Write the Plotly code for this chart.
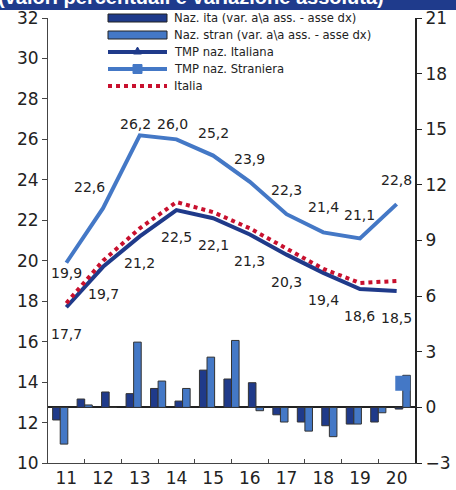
import plotly.graph_objects as go

# years on the main (line) axis
anni = ['11', '12', '13', '14', '15', '16', '17', '18', '19', '20']
tmp_ita = [17.7, 19.7, 21.2, 22.5, 22.1, 21.3, 20.3, 19.4, 18.6, 18.5]
tmp_stran = [19.9, 22.6, 26.2, 26.0, 25.2, 23.9, 22.3, 21.4, 21.1, 22.8]
tmp_italia = [17.9, 20.0, 21.6, 22.9, 22.4, 21.6, 20.6, 19.6, 18.9, 19.0]

# bars (right axis) on their own 15 periods
periodi = [str(i) for i in range(15)]
var_ita = [-0.68, 0.45, 0.83, 0.74, 1.02, 0.34, 2.01, 1.53, 1.33, -0.40, -0.79, -0.99, -0.90, -0.79, -0.09]
var_stran = [-1.98, 0.13, 0.0, 3.52, 1.42, 1.02, 2.71, 3.61, -0.18, -0.79, -1.28, -1.58, -0.90, -0.29, 1.73]
macchia_x = ['14']
macchia_y = [1.3]

legenda = ['Naz. ita (var. a\\a ass. - asse dx)', 'Naz. stran (var. a\\a ass. - asse dx)',
           'TMP naz. Italiana', 'TMP naz. Straniera', 'Italia']

BLU = '#1F3A8A'
AZZ = '#4478C6'
ROSSO = '#C8102E'
FONT = 'DejaVu Sans'

W, H = 456, 490
ML, MR, MT, MB = 48, 41, 18, 27
PW, PH = W - ML - MR, H - MT - MB


def px(x):
    return (x - ML) / PW


def py(y):
    return 1 - (y - MT) / PH


# label offsets (px)
shift_ita = [(0, -27)] * 10
shift_stran = [(0, -10), (-14, 21), (-4, 11), (-4, 15), (0, 23), (0, 23), (0, 24), (0, 25), (0, 23), (0, 24)]

fig = go.Figure()

fig.add_trace(go.Bar(x=periodi, y=var_ita, xaxis='x2', yaxis='y2', marker=dict(color=BLU, line=dict(color='#333', width=1)),
                     showlegend=False))
fig.add_trace(go.Bar(x=periodi, y=var_stran, xaxis='x2', yaxis='y2', marker=dict(color=AZZ, line=dict(color='#333', width=1)),
                     showlegend=False))
fig.add_trace(go.Scatter(x=macchia_x, y=macchia_y, xaxis='x2', yaxis='y2', mode='markers',
                         marker=dict(symbol='square', size=15, color=AZZ), showlegend=False, hoverinfo='skip'))

fig.add_trace(go.Scatter(x=anni, y=tmp_stran, mode='lines', line=dict(color=AZZ, width=4), showlegend=False))
fig.add_trace(go.Scatter(x=anni, y=tmp_ita, mode='lines', line=dict(color=BLU, width=4), showlegend=False))
fig.add_trace(go.Scatter(x=anni, y=tmp_italia, mode='lines', line=dict(color=ROSSO, width=4, dash='dot'), showlegend=False))

annots = []
lab_font = dict(size=14, color='#222', family=FONT)
for i in range(len(anni)):
    annots.append(dict(x=i, y=tmp_ita[i], text=f'{tmp_ita[i]:.1f}'.replace('.', ','), showarrow=False,
                       xshift=shift_ita[i][0], yshift=shift_ita[i][1], font=lab_font))
    annots.append(dict(x=i, y=tmp_stran[i], text=f'{tmp_stran[i]:.1f}'.replace('.', ','), showarrow=False,
                       xshift=shift_stran[i][0], yshift=shift_stran[i][1], font=lab_font))

# title strip, cut off at the top
annots.append(dict(xref='paper', yref='paper', x=px(-4), y=1.0, xanchor='left', yanchor='bottom', yshift=8,
                   text='<b>(valori percentuali e variazione assoluta)</b>', showarrow=False,
                   font=dict(size=20, color='white', family='Liberation Sans')))

shapes = [dict(type='rect', xref='paper', yref='paper', x0=-0.2, x1=1.2, y0=py(10), y1=1.1,
               fillcolor='#1F3B8C', line=dict(width=0), layer='below')]

# hand-made legend
righe = [18, 35, 52, 69, 86]
sx0, sx1, tx = 108, 167, 172
for k, nome in enumerate(legenda):
    yc = righe[k]
    annots.append(dict(xref='paper', yref='paper', x=px(tx), y=py(yc), xanchor='left', yanchor='middle',
                       text=nome, showarrow=False, font=dict(size=11.6, color='#222', family=FONT)))
shapes.append(dict(type='rect', xref='paper', yref='paper', x0=px(sx0), x1=px(sx1), y0=py(righe[0] - 4), y1=py(righe[0] + 4),
                   fillcolor=BLU, line=dict(color='#222', width=1)))
shapes.append(dict(type='rect', xref='paper', yref='paper', x0=px(sx0), x1=px(sx1), y0=py(righe[1] - 4), y1=py(righe[1] + 4),
                   fillcolor=AZZ, line=dict(color='#222', width=1)))
shapes.append(dict(type='line', xref='paper', yref='paper', x0=px(sx0), x1=px(sx1), y0=py(righe[2]), y1=py(righe[2]),
                   line=dict(color=BLU, width=4)))
xm = (sx0 + sx1) / 2
shapes.append(dict(type='path', xref='paper', yref='paper',
                   path=f'M {px(xm - 4)},{py(righe[2] + 2)} L {px(xm + 4)},{py(righe[2] + 2)} L {px(xm)},{py(righe[2] - 5)} Z',
                   fillcolor=BLU, line=dict(color=BLU, width=1)))
shapes.append(dict(type='line', xref='paper', yref='paper', x0=px(sx0), x1=px(sx1), y0=py(righe[3]), y1=py(righe[3]),
                   line=dict(color=AZZ, width=4)))
shapes.append(dict(type='rect', xref='paper', yref='paper', x0=px(xm - 4.5), x1=px(xm + 4.5), y0=py(righe[3] - 4.5), y1=py(righe[3] + 4.5),
                   fillcolor=AZZ, line=dict(color=AZZ, width=1)))
shapes.append(dict(type='line', xref='paper', yref='paper', x0=px(sx0), x1=px(sx1), y0=py(righe[4]), y1=py(righe[4]),
                   line=dict(color=ROSSO, width=4, dash='dot')))

fig.update_layout(
    width=W, height=H,
    margin=dict(l=ML, r=MR, t=MT, b=MB, autoexpand=False),
    paper_bgcolor='white', plot_bgcolor='white',
    font=dict(family=FONT, size=17, color='#222'),
    barmode='group', bargap=0.38, bargroupgap=0,
    shapes=shapes,
    annotations=annots,
    showlegend=False,
    xaxis=dict(type='category', range=[-0.5, 9.5], tickson='boundaries', ticks='inside', ticklen=4,
               tickcolor='#444', showline=True, linecolor='#444', linewidth=1, showgrid=False,
               tickfont=dict(size=17)),
    xaxis2=dict(type='category', overlaying='x', range=[-0.5, 14.5], visible=False),
    yaxis=dict(range=[10, 32], dtick=2, ticks='outside', ticklen=5, tickcolor='#444', showline=True,
               linecolor='#444', linewidth=1, showgrid=False, zeroline=False, tickfont=dict(size=17)),
    yaxis2=dict(range=[-3, 21], dtick=3, overlaying='y', side='right', ticks='outside', ticklen=5,
                tickcolor='#222', showline=True, linecolor='#222', linewidth=2, showgrid=False,
                zeroline=True, zerolinecolor='#222', zerolinewidth=2, tickfont=dict(size=17)),
    hovermode=False,
)

# page body has a default 8px margin; drop it so the figure sits at the window corner
fig.write_html('out.html', config={'displayModeBar': False, 'staticPlot': True},
               post_script="document.body.style.margin='0';")
